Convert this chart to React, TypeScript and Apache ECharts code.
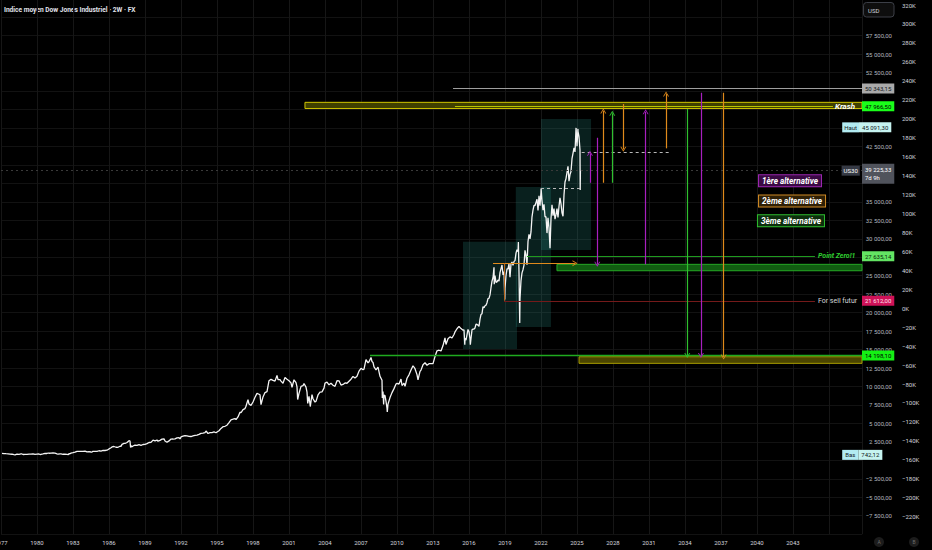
import React, { useEffect, useRef } from "react";
import * as echarts from "echarts";

const FONT = 'Roboto, "Noto Sans", "DejaVu Sans", sans-serif';
const TITLE = "Indice moyen Dow Jones Industriel · 2W · FX";

// ---- axes -----------------------------------------------------------
const yearMin = 1977;
const yearMax = 2048.75;
const yearStep = 3;
const lastYearLabel = 2043;
const priceMin = -10000;
const priceMax = 62500;
const priceStep = 2500;
const priceLabelMin = -7500;
const priceLabelMax = 57500;
const priceLabelsHidden = [50000, 47500, 45000, 40000, 37500, 27500, 0];
const kMin = -238467;
const kMax = 326543;
const kTicks = [
  320000, 300000, 280000, 260000, 240000, 220000, 200000, 180000, 160000, 140000,
  120000, 100000, 80000, 60000, 40000, 20000, 0, -20000, -40000, -60000, -80000,
  -100000, -120000, -140000, -160000, -180000, -200000, -220000,
];

// ---- Dow Jones (2W chart) ---------------------------------------------
const dj1977_1985: [string, number][] = [
  ["1977-01", 954], ["1977-03", 919], ["1977-05", 899], ["1977-07", 890], ["1977-09", 847], ["1977-11", 829],
  ["1978-01", 770], ["1978-02", 742], ["1978-04", 837], ["1978-06", 819], ["1978-08", 877], ["1978-09", 866], ["1978-10", 793], ["1978-12", 805],
  ["1979-02", 808], ["1979-04", 855], ["1979-06", 842], ["1979-08", 888], ["1979-10", 816], ["1979-12", 839],
  ["1980-02", 863], ["1980-03", 786], ["1980-04", 818], ["1980-06", 868], ["1980-08", 933], ["1980-10", 925], ["1980-11", 993], ["1980-12", 964],
  ["1981-02", 975], ["1981-04", 998], ["1981-06", 977], ["1981-08", 882], ["1981-09", 850], ["1981-11", 889], ["1981-12", 875],
  ["1982-02", 824], ["1982-04", 848], ["1982-06", 812], ["1982-08-12", 777], ["1982-08", 901], ["1982-09", 896], ["1982-10", 992], ["1982-12", 1047],
  ["1983-02", 1113], ["1983-04", 1226], ["1983-06", 1222], ["1983-08", 1216], ["1983-10", 1225], ["1983-12", 1259],
  ["1984-02", 1155], ["1984-04", 1171], ["1984-06", 1132], ["1984-07", 1115], ["1984-08", 1224], ["1984-10", 1207], ["1984-12", 1212],
  ["1985-02", 1300], ["1985-04", 1258], ["1985-06", 1336], ["1985-08", 1334], ["1985-10", 1374], ["1985-12", 1547],
];

const dj1986_1995: [string, number][] = [
  ["1986-02", 1709], ["1986-03", 1819], ["1986-05", 1877], ["1986-07", 1775], ["1986-09", 1768], ["1986-11", 1914], ["1986-12", 1896],
  ["1987-01", 2158], ["1987-03", 2305], ["1987-04", 2286], ["1987-06", 2419], ["1987-08", 2663], ["1987-09", 2596], ["1987-10-19", 1739], ["1987-10", 1994], ["1987-11", 1834], ["1987-12", 1939],
  ["1988-02", 2072], ["1988-04", 2032], ["1988-06", 2142], ["1988-08", 2032], ["1988-10", 2149], ["1988-12", 2169],
  ["1989-02", 2259], ["1989-04", 2419], ["1989-06", 2440], ["1989-08", 2737], ["1989-10", 2645], ["1989-12", 2753],
  ["1990-01", 2591], ["1990-03", 2707], ["1990-05", 2877], ["1990-07", 2905], ["1990-08", 2614], ["1990-10", 2442], ["1990-12", 2634],
  ["1991-02", 2882], ["1991-04", 2888], ["1991-06", 2907], ["1991-08", 3044], ["1991-10", 3069], ["1991-11", 2895], ["1991-12", 3169],
  ["1992-02", 3267], ["1992-04", 3359], ["1992-06", 3319], ["1992-08", 3257], ["1992-10", 3227], ["1992-12", 3301],
  ["1993-02", 3371], ["1993-04", 3428], ["1993-06", 3516], ["1993-08", 3651], ["1993-10", 3681], ["1993-12", 3754],
  ["1994-01", 3978], ["1994-03", 3636], ["1994-05", 3758], ["1994-07", 3765], ["1994-09", 3843], ["1994-11", 3739], ["1994-12", 3834],
  ["1995-02", 4011], ["1995-04", 4321], ["1995-06", 4556], ["1995-08", 4611], ["1995-10", 4756], ["1995-12", 5117],
];

const dj1996_2005: [string, number][] = [
  ["1996-02", 5485], ["1996-04", 5569], ["1996-06", 5655], ["1996-07", 5529], ["1996-09", 5882], ["1996-11", 6522], ["1996-12", 6448],
  ["1997-02", 6877], ["1997-04", 7009], ["1997-05", 7331], ["1997-07", 8223], ["1997-08", 7622], ["1997-10", 7442], ["1997-12", 7908],
  ["1998-02", 8546], ["1998-04", 9063], ["1998-06", 8952], ["1998-07", 8883], ["1998-08", 7539], ["1998-10", 8592], ["1998-12", 9181],
  ["1999-02", 9307], ["1999-04", 10789], ["1999-06", 10971], ["1999-08", 10829], ["1999-10", 10730], ["1999-12", 11497],
  ["2000-01", 10941], ["2000-03", 10922], ["2000-04", 10734], ["2000-06", 10448], ["2000-08", 11215], ["2000-10", 10971], ["2000-12", 10788],
  ["2001-02", 10495], ["2001-03", 9879], ["2001-05", 10912], ["2001-07", 10523], ["2001-08", 9950], ["2001-09-21", 8236], ["2001-10", 9075], ["2001-12", 10022],
  ["2002-02", 10106], ["2002-03", 10404], ["2002-05", 9925], ["2002-06", 9243], ["2002-07-23", 7702], ["2002-08", 8664], ["2002-09", 7592], ["2002-10-09", 7286], ["2002-11", 8896], ["2002-12", 8342],
  ["2003-02", 7891], ["2003-03", 7992], ["2003-05", 8850], ["2003-07", 9234], ["2003-09", 9275], ["2003-11", 9782], ["2003-12", 10454],
  ["2004-02", 10584], ["2004-04", 10226], ["2004-06", 10435], ["2004-08", 10174], ["2004-10", 10027], ["2004-12", 10783],
  ["2005-02", 10766], ["2005-04", 10193], ["2005-06", 10275], ["2005-08", 10482], ["2005-10", 10440], ["2005-12", 10718],
];

const dj2006_2015: [string, number][] = [
  ["2006-02", 10993], ["2006-04", 11367], ["2006-06", 11150], ["2006-08", 11381], ["2006-10", 12081], ["2006-12", 12463],
  ["2007-02", 12269], ["2007-03", 12354], ["2007-05", 13628], ["2007-07", 13212], ["2007-08", 13358], ["2007-10", 13930], ["2007-11", 13372], ["2007-12", 13265],
  ["2008-01", 12650], ["2008-03", 12263], ["2008-05", 12638], ["2008-07", 11378], ["2008-09", 10851], ["2008-10-10", 8451], ["2008-10", 9325], ["2008-11-20", 7552], ["2008-11", 8829], ["2008-12", 8776],
  ["2009-01", 8001], ["2009-02", 7063], ["2009-03-09", 6547], ["2009-03", 7609], ["2009-05", 8500], ["2009-07", 9172], ["2009-09", 9712], ["2009-11", 10345], ["2009-12", 10428],
  ["2010-02", 10325], ["2010-04", 11009], ["2010-05", 10137], ["2010-07", 10466], ["2010-08", 10015], ["2010-10", 11118], ["2010-12", 11578],
  ["2011-02", 12226], ["2011-04", 12811], ["2011-06", 12414], ["2011-08", 11614], ["2011-09", 10913], ["2011-11", 12046], ["2011-12", 12218],
  ["2012-02", 12952], ["2012-04", 13214], ["2012-06", 12880], ["2012-08", 13091], ["2012-10", 13096], ["2012-12", 13104],
  ["2013-02", 14054], ["2013-04", 14840], ["2013-06", 14910], ["2013-08", 14810], ["2013-10", 15546], ["2013-12", 16577],
  ["2014-01", 15699], ["2014-03", 16458], ["2014-05", 16717], ["2014-07", 16563], ["2014-09", 17043], ["2014-10", 17391], ["2014-12", 17823],
  ["2015-02", 18133], ["2015-04", 17841], ["2015-06", 17620], ["2015-07", 17690], ["2015-08-25", 15666], ["2015-08", 16528], ["2015-09", 16285], ["2015-11", 17720], ["2015-12", 17425],
];

const dj2016_2025: [string, number][] = [
  ["2016-01", 16466], ["2016-02-11", 15660], ["2016-02", 16517], ["2016-03", 17685], ["2016-04", 17774], ["2016-05", 17787], ["2016-06", 17930],
  ["2016-07", 18432], ["2016-08", 18401], ["2016-09", 18308], ["2016-10", 18142], ["2016-11", 19124], ["2016-12", 19763],
  ["2017-01", 19864], ["2017-02", 20812], ["2017-03", 20663], ["2017-04", 20941], ["2017-05", 21009], ["2017-06", 21350],
  ["2017-07", 21891], ["2017-08", 21948], ["2017-09", 22405], ["2017-10", 23377], ["2017-11", 24272], ["2017-12", 24719],
  ["2018-01", 26149], ["2018-02-08", 23860], ["2018-02", 25029], ["2018-03", 24103], ["2018-04", 24163], ["2018-05", 24416], ["2018-06", 24271],
  ["2018-07", 25415], ["2018-08", 25965], ["2018-09", 26458], ["2018-10", 25116], ["2018-11", 25538], ["2018-12-24", 21792], ["2018-12", 23327],
  ["2019-01", 24999], ["2019-02", 25916], ["2019-03", 25929], ["2019-04", 26593], ["2019-05", 24815], ["2019-06", 26600],
  ["2019-07", 26864], ["2019-08", 26403], ["2019-09", 26917], ["2019-10", 27046], ["2019-11", 28051], ["2019-12", 28538],
  ["2020-01", 28256], ["2020-02-12", 29551], ["2020-02", 25409], ["2020-03-23", 18592], ["2020-03", 21917], ["2020-04", 24346], ["2020-05", 25383], ["2020-06", 25813],
  ["2020-07", 26428], ["2020-08", 28430], ["2020-09", 27782], ["2020-10", 26502], ["2020-11", 29639], ["2020-12", 30606],
  ["2021-01", 29983], ["2021-02", 30932], ["2021-03", 32982], ["2021-04", 33874], ["2021-05", 34529], ["2021-06", 34503],
  ["2021-07", 34935], ["2021-08", 35361], ["2021-09", 33844], ["2021-10", 35820], ["2021-11", 34484], ["2021-12", 36338],
  ["2022-01-04", 36799], ["2022-01", 35132], ["2022-02", 33893], ["2022-03", 34678], ["2022-04", 32977], ["2022-05", 32990], ["2022-06", 30775],
  ["2022-07", 32845], ["2022-08", 31510], ["2022-09", 28726], ["2022-10", 32733], ["2022-11", 34590], ["2022-12", 33147],
  ["2023-01", 34086], ["2023-02", 32657], ["2023-03", 33274], ["2023-04", 34098], ["2023-05", 32908], ["2023-06", 34408],
  ["2023-07", 35560], ["2023-08", 34722], ["2023-09", 33508], ["2023-10", 33053], ["2023-11", 35951], ["2023-12", 37690],
  ["2024-01", 38150], ["2024-02", 38996], ["2024-03", 39807], ["2024-04", 37816], ["2024-05", 38686], ["2024-06", 39119],
  ["2024-07", 40843], ["2024-08", 41563], ["2024-09", 42330], ["2024-10", 41763], ["2024-11", 44911], ["2024-12-04", 45014], ["2024-12", 42544],
  ["2025-01-30", 44882], ["2025-01", 44544], ["2025-02", 43841], ["2025-03", 42002], ["2025-04-07", 36612], ["2025-04-14", 39225],
];

// ---- drawn levels (prices) -------------------------------------------
const resistanceLevel = 50343.15;
const krashLevel = 47966.5;
const athHigh = 45091.3;
const lastPrice = 39225.33;
const lastCountdown = "7d 9h";
const pointZeroLevel = 27635.14;
const sellLevel = 21612.0;
const support2007 = 14198.1;
const allTimeLow = 742.12;

// zones: [x1, top, x2, bottom]
const tealZones: [number, number, number, number][] = [
  [2015.5, 29602, 2020.0, 15072],
  [2019.9, 37009, 2022.83, 18051],
  [2022.0, 46218, 2026.17, 28476],
];
const krashZone: [number, number, number, number] = [2002.33, 48479, 2048.75, 47640];
const greenZone: [number, number, number, number] = [2023.33, 26542, 2048.75, 25675];
const oliveZone: [number, number, number, number] = [2025.17, 14029, 2048.75, 13135];

// dashed guides: [x1, x2, price]
const dashedGuides: [number, number, number][] = [
  [2022.0, 2025.25, 36833],
  [2025.39, 2032.75, 41654],
];

// scenario arrows (1 = 1ère, 2 = 2ème, 3 = 3ème alternative)
const arrowX = [2026.08, 2026.69, 2027.19, 2027.94, 2028.86, 2030.72, 2032.42, 2034.19, 2035.33, 2037.22];
const arrowFrom = [37591, 43685, 37591, 37591, 48249, 26542, 42250, 47572, 49779, 49779];
const arrowTo = [41573, 26542, 47301, 46990, 42114, 47206, 49603, 14198, 14198, 13990];
const arrowScenario = [1, 1, 2, 3, 2, 1, 2, 3, 1, 2];

// orange horizontal arrow: [x1, x2, price] and its drop to the sell level
const orangeRun: [number, number, number] = [2018.0, 2024.83, 26680];
const orangeDropX = 2018.92;

const scenarioNames = ["1ère alternative", "2ème alternative", "3ème alternative"];
const scenarioPos: [number, number][] = [
  [2042.75, 37862],
  [2042.92, 35113],
  [2042.83, 32446],
];

// line start years
const resistanceStart = 2014.67;
const krashLineStart = 2014.83;
const krashLineEnd = 2046.33;
const pointZeroStart = 2020.83;
const sellStart = 2018.92;
const textLineEnd = 2044.83;
const supportStart = 2007.75;
const tagStart = 2047.1;

// ---- helpers -----------------------------------------------------------
function toYear(s: string): number {
  const [y, m, d] = s.split("-").map(Number);
  return d ? y + (m - 1) / 12 + (d - 1) / 365 : y + m / 12;
}
function fr(v: number): string {
  const neg = v < 0;
  const [i, d] = Math.abs(v).toFixed(2).split(".");
  return (neg ? "−" : "") + i.replace(/\B(?=(\d{3})+(?!\d))/g, " ") + "," + d;
}

const COLORS = {
  purple: "#a81fbf",
  orange: "#e08a1c",
  green: "#2fc02f",
};
const scenarioColor = (s: number) => (s === 1 ? COLORS.purple : s === 2 ? COLORS.orange : COLORS.green);
const CHEVRON = "path://M0,7 L5,0 L10,7 L8.4,7 L5,2.2 L1.6,7 Z";

function boxLabel(text: string, bg: string, fg: string, extra: any = {}) {
  return {
    show: true,
    position: "end",
    distance: 0,
    formatter: () => text,
    backgroundColor: bg,
    color: fg,
    fontSize: 6,
    fontFamily: FONT,
    padding: [2, 3, 2, 3],
    ...extra,
  };
}

function hLine(x1: number, x2: number, y: number, lineStyle: any, label?: any, endSymbol = "none") {
  return [
    { coord: [x1, y], symbol: "none", lineStyle: { type: "solid", ...lineStyle }, label: label || { show: false } },
    { coord: [x2, y], symbol: endSymbol, symbolSize: [6, 5] },
  ];
}
const HIDDEN = { color: "rgba(0,0,0,0)", width: 0 };

export default function App() {
  const ref = useRef<HTMLDivElement>(null);

  useEffect(() => {
    if (!ref.current) return;
    const chart = echarts.init(ref.current, null, { renderer: "svg" });

    const series = [...dj1977_1985, ...dj1986_1995, ...dj1996_2005, ...dj2006_2015, ...dj2016_2025].map(
      ([d, v]) => [toYear(d), v]
    );

    const markLineData: any[] = [];
    markLineData.push(
      hLine(resistanceStart, yearMax, resistanceLevel, { color: "#9e9e9e", width: 1 },
        boxLabel(fr(resistanceLevel), "#a9a9a9", "#131722"))
    );
    markLineData.push(
      hLine(krashLineStart, krashLineEnd, krashLevel, { color: "#b9c400", width: 1 }, {
        show: true, position: "end", distance: 2, formatter: () => "Krash", color: "#ffffff",
        fontSize: 8, fontStyle: "italic", fontWeight: "bold", fontFamily: FONT,
      })
    );
    markLineData.push(hLine(2046.5, yearMax, krashLevel, HIDDEN, boxLabel(fr(krashLevel), "#1aff1a", "#000000")));
    markLineData.push(
      hLine(2046.0, tagStart, athHigh, HIDDEN, {
        show: true, position: "end", distance: 0,
        formatter: () => `{a|Haut}{b|${fr(athHigh)}}`,
        rich: {
          a: { backgroundColor: "#b2ebf2", color: "#131722", fontSize: 6, fontFamily: FONT, padding: [2, 2, 2, 2] },
          b: { backgroundColor: "#c6f3f0", color: "#131722", fontSize: 6, fontFamily: FONT, padding: [2, 3, 2, 3] },
        },
      })
    );
    markLineData.push(
      hLine(yearMin, yearMax, lastPrice, { color: "#3a3a3a", width: 1, type: [2, 3] },
        boxLabel(`${fr(lastPrice)}\n${lastCountdown}`, "#50535c", "#ffffff", { lineHeight: 8, offset: [0, 3] }))
    );
    markLineData.push(
      hLine(2046.0, tagStart - 0.05, lastPrice, HIDDEN, boxLabel("US30", "#363a45", "#ffffff", { padding: [2, 2, 2, 2] }))
    );
    markLineData.push(
      hLine(pointZeroStart, textLineEnd, pointZeroLevel, { color: "#1f9a1f", width: 1 }, {
        show: true, position: "end", distance: 3, formatter: () => "Point Zero!1", color: "#2fcf2f",
        fontSize: 7, fontStyle: "italic", fontWeight: "bold", fontFamily: FONT,
      })
    );
    markLineData.push(hLine(2046.5, yearMax, pointZeroLevel, HIDDEN, boxLabel(fr(pointZeroLevel), "#63e463", "#0b1f0b")));
    markLineData.push(
      hLine(sellStart, textLineEnd, sellLevel, { color: "#741a1a", width: 1 }, {
        show: true, position: "end", distance: 3, formatter: () => "For sell futur", color: "#d6d6d6",
        fontSize: 7, fontFamily: FONT,
      })
    );
    markLineData.push(hLine(2046.5, yearMax, sellLevel, HIDDEN, boxLabel(fr(sellLevel), "#cf1258", "#ffe3ee")));
    markLineData.push(
      hLine(supportStart, yearMax, support2007, { color: "#1faa1f", width: 1.4 },
        boxLabel(fr(support2007), "#14f014", "#000000"))
    );
    markLineData.push(
      hLine(2046.0, tagStart, allTimeLow, HIDDEN, {
        show: true, position: "end", distance: 0,
        formatter: () => `{a|Bas}{b|${fr(allTimeLow)}}`,
        rich: {
          a: { backgroundColor: "#b2ebf2", color: "#131722", fontSize: 6, fontFamily: FONT, padding: [2, 3, 2, 3] },
          b: { backgroundColor: "#c6f3f0", color: "#131722", fontSize: 6, fontFamily: FONT, padding: [2, 3, 2, 3] },
        },
      })
    );
    dashedGuides.forEach(([x1, x2, y]) =>
      markLineData.push(hLine(x1, x2, y, { color: "#b8b8b8", width: 1, type: [3, 3] }))
    );
    markLineData.push(hLine(orangeRun[0], orangeRun[1], orangeRun[2], { color: COLORS.orange, width: 1.2 }, undefined, CHEVRON));
    markLineData.push([
      { coord: [orangeDropX, orangeRun[2]], symbol: "none", lineStyle: { type: "solid", color: "#b5651d", width: 1 }, label: { show: false } },
      { coord: [orangeDropX, sellLevel], symbol: "none" },
    ]);
    arrowX.forEach((x, i) => {
      markLineData.push([
        { coord: [x, arrowFrom[i]], symbol: "none", lineStyle: { type: "solid", color: scenarioColor(arrowScenario[i]), width: 1.2 }, label: { show: false } },
        { coord: [x, arrowTo[i]], symbol: CHEVRON, symbolSize: [6, 5] },
      ]);
    });

    const zone = (z: [number, number, number, number], itemStyle: any) => [
      { coord: [z[0], z[1]], itemStyle },
      { coord: [z[2], z[3]] },
    ];
    const markAreaData: any[] = [
      ...tealZones.map((z) => zone(z, { color: "rgba(50,170,160,0.19)" })),
      zone(krashZone, { color: "#404000", borderColor: "#cfc400", borderWidth: 1 }),
      zone(greenZone, { color: "#115c11", borderColor: "#25a825", borderWidth: 1 }),
      zone(oliveZone, { color: "#4b4500", borderColor: "#a89c00", borderWidth: 1 }),
    ];

    const scenarioStyle = [
      { bg: "#3a0a44", border: "#9c27b0" },
      { bg: "#2f2006", border: "#d08a24" },
      { bg: "#0d2e0d", border: "#2fbf2f" },
    ];
    const markPointData = scenarioNames.map((name, i) => ({
      coord: scenarioPos[i],
      symbol: "circle",
      symbolSize: 0,
      itemStyle: { color: "rgba(0,0,0,0)" },
      label: {
        show: true,
        position: "inside",
        formatter: () => name,
        color: "#ffffff",
        fontSize: 8.2,
        fontStyle: "italic",
        fontWeight: "bold",
        fontFamily: FONT,
        backgroundColor: scenarioStyle[i].bg,
        borderColor: scenarioStyle[i].border,
        borderWidth: 1,
        padding: [2, 3, 1, 3],
      },
    }));

    chart.setOption({
      animation: false,
      backgroundColor: "#000000",
      textStyle: { fontFamily: FONT },
      grid: { left: 1, right: 70, top: -1.2, bottom: 15.8, containLabel: false, outerBoundsMode: "none" },
      xAxis: {
        type: "value",
        min: yearMin,
        max: yearMax,
        interval: yearStep,
        axisLine: { show: false },
        axisTick: { show: false },
        splitLine: { show: true, lineStyle: { color: "#161616", width: 1 } },
        axisLabel: {
          color: "#d1d4dc",
          fontSize: 6,
          fontFamily: FONT,
          margin: 5,
          hideOverlap: false,
          formatter: (v: number) => (Number.isInteger(v) && v <= lastYearLabel ? String(v) : ""),
        },
      },
      yAxis: [
        {
          type: "value",
          position: "right",
          min: priceMin,
          max: priceMax,
          interval: priceStep,
          axisLine: { show: false },
          axisTick: { show: false },
          splitLine: { show: true, lineStyle: { color: "#121212", width: 1 } },
          axisLabel: {
            color: "#b2b5be",
            fontSize: 6,
            fontFamily: FONT,
            margin: 30,
            align: "right",
            formatter: (v: number) =>
              v > priceLabelMax || v < priceLabelMin || priceLabelsHidden.includes(v) ? "" : fr(v),
          },
        },
        {
          type: "value",
          position: "right",
          min: kMin,
          max: kMax,
          axisLine: { show: false },
          axisTick: { show: false },
          splitLine: { show: false },
          axisLabel: {
            color: "#d1d4dc",
            fontSize: 6,
            fontFamily: FONT,
            margin: 40,
            align: "left",
            customValues: kTicks,
            formatter: (v: number) => (v < 0 ? "−" : "") + Math.abs(v) / 1000 + "K",
          },
        },
      ],
      series: [
        {
          type: "line",
          name: "US30",
          data: series,
          xAxisIndex: 0,
          yAxisIndex: 0,
          showSymbol: false,
          symbol: "none",
          clip: false,
          lineStyle: { color: "#f4f4f4", width: 1.3 },
          z: 3,
          markArea: { silent: true, data: markAreaData, label: { show: false } },
          markLine: {
            silent: true,
            symbol: ["none", "none"],
            label: { show: false },
            lineStyle: { type: "solid" },
            emphasis: { disabled: true },
            data: markLineData,
          },
          markPoint: { silent: true, data: markPointData },
        },
        {
          type: "line",
          name: "K",
          data: [],
          xAxisIndex: 0,
          yAxisIndex: 1,
        },
      ],
      graphic: [
        {
          type: "text",
          x: 4,
          y: 10,
          style: {
            text: TITLE,
            fill: "#e0e3eb",
            fontSize: 6.6,
            fontWeight: "bold",
            fontFamily: FONT,
            verticalAlign: "middle",
          },
        },
        {
          type: "rect",
          shape: { x: 863.5, y: 2.5, width: 30.5, height: 14.5, r: 3 },
          style: { fill: "#0e0e0e", stroke: "#3c3f47", lineWidth: 1 },
        },
        {
          type: "text",
          x: 868,
          y: 10,
          style: { text: "USD", fill: "#d1d4dc", fontSize: 6, fontFamily: FONT, verticalAlign: "middle" },
        },
        { type: "circle", shape: { cx: 879, cy: 542, r: 5 }, style: { fill: "#1c1c1c" } },
        {
          type: "text",
          x: 879,
          y: 542,
          style: { text: "A", fill: "#6d6d6d", fontSize: 5, fontFamily: FONT, align: "center", verticalAlign: "middle" },
        },
        { type: "circle", shape: { cx: 914, cy: 542, r: 5 }, style: { fill: "#1c1c1c" } },
        {
          type: "text",
          x: 914,
          y: 542,
          style: { text: "B", fill: "#6d6d6d", fontSize: 5, fontFamily: FONT, align: "center", verticalAlign: "middle" },
        },
      ],
    });

    return () => chart.dispose();
  }, []);

  return (
    <div
      ref={ref}
      style={{ position: "absolute", left: 0, top: 0, width: 932, height: 550, background: "#000" }}
    />
  );
}
